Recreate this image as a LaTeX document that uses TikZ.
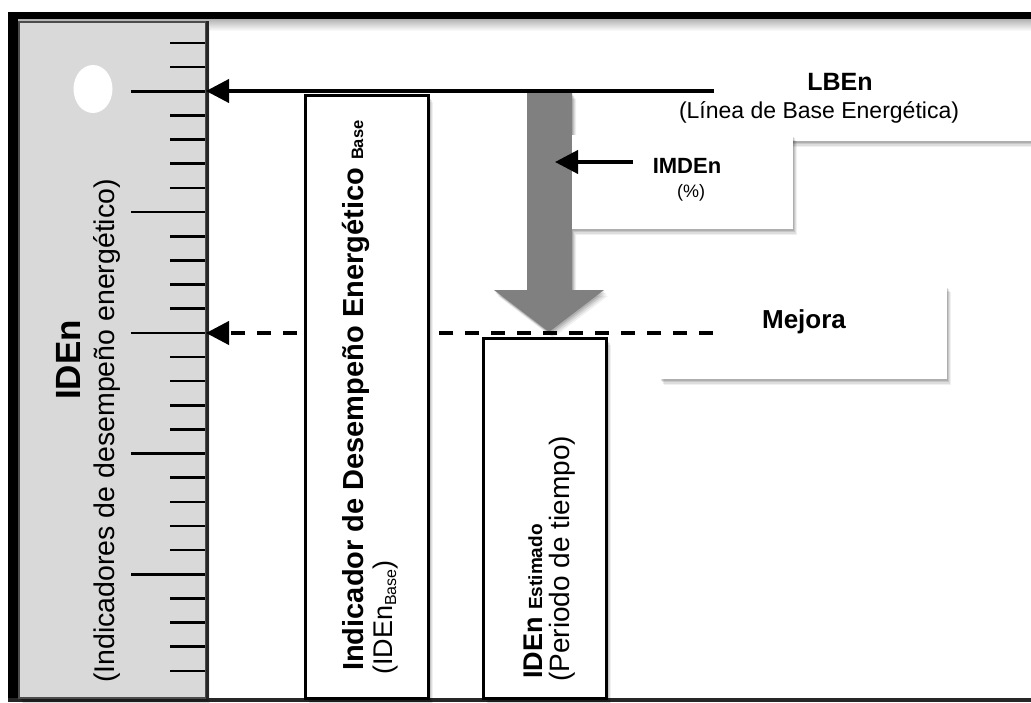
\documentclass[tikz,border=0pt]{standalone}
\usepackage{fontspec}
\setmainfont{Liberation Sans}
\usetikzlibrary{arrows.meta,shadows,shapes.geometric}
\newcommand\fsz[1]{\fontsize{#1}{#1}\selectfont}
\begin{document}
\begin{tikzpicture}[x=1pt,y=-1pt,
  softshadow/.style={
    drop shadow={shadow xshift=1pt,shadow yshift=-1.5pt,opacity=.12,fill=black},
    drop shadow={shadow xshift=2pt,shadow yshift=-3pt,opacity=.10,fill=black},
    drop shadow={shadow xshift=3pt,shadow yshift=-4.5pt,opacity=.08,fill=black},
    drop shadow={shadow xshift=4pt,shadow yshift=-6pt,opacity=.06,fill=black}},
  barbox/.style={draw=black,line width=3pt,fill=white,inner sep=0,anchor=north west,softshadow},
  labelbox/.style={fill=white,inner sep=0,anchor=north west,softshadow},
  tickline/.style={line width=2.6pt,black},
  rtext/.style={rotate=90,anchor=base west,inner sep=0},
  ctext/.style={anchor=base,inner sep=0},
  conn/.style={line width=4pt,black,-{Triangle[length=23pt,width=23pt]}},
  dashconn/.style={conn,dash pattern=on 14pt off 12pt}
]
\useasboundingbox (0,0) rectangle (1031,702);
\clip (0,0) rectangle (1031,702);
\fill[white] (0,0) rectangle (1031,702);
% top shadow under frame
\shade[top color=black!30,bottom color=white] (18,19) rectangle (1031,31);
% frame
\fill[black] (8,12) rectangle (1031,19);
\fill[black] (8,12) rectangle (18,702);
\fill[black!85] (8,698) rectangle (1031,702);

% ruler
\node[fill=black!15,draw=black!70,line width=2pt,inner sep=0,anchor=north west,
      minimum width=187pt,minimum height=676pt,softshadow] (ruler) at (18,21) {};
\draw[line width=3pt,black!85] (ruler.north east) -- (ruler.south east);
\node[ellipse,fill=white,inner sep=0,minimum width=39pt,minimum height=48pt] (hole) at (93,89) {};
\foreach \k in {0,...,26}{
  \pgfmathsetmacro\ty{43+24.15*\k}
  \pgfmathtruncatemacro\m{mod(\k,5)}
  \ifnum\m=2
    \draw[tickline] (131,\ty) -- (205,\ty);
  \else
    \draw[tickline] (170,\ty) -- (205,\ty);
  \fi
}
\coordinate (tickLB) at (206,91);
\coordinate (tickMJ) at (206,333);
\node[rtext] (rulerT) at (80,400) {\fsz{35}\bfseries IDEn};
\node[rtext] (rulerS) at (114,683) {\fsz{28.5}(Indicadores de desempeño energético)};

% Mejora dashed connector (runs behind the base bar)
\coordinate (mjstart) at (713,333);
\draw[dashconn] (mjstart) -- (tickMJ);

% bars
\node[barbox,minimum width=123pt,minimum height=603pt] (base) at (304,94) {};
\node[barbox,minimum width=123pt,minimum height=360pt] (est) at (482,337) {};
\node[rtext] (baseT) at (363,671) {\fsz{29}\bfseries Indicador de Desempeño Energético {\fsz{16.5}Base}};
\node[rtext] (baseS) at (392,675) {\fsz{27}(IDEn\raisebox{-4pt}{\fsz{16}Base})};
\node[rtext] (estT) at (542,679) {\fsz{27}\bfseries IDEn {\fsz{19}Estimado}};
\node[rtext] (estS) at (569,682) {\fsz{28}(Periodo de tiempo)};

% big gray arrow
\fill[black!50,softshadow] (527,93) -- (572,93) -- (572,290) -- (604,290) -- (549,332)
  -- (494,290) -- (527,290) -- cycle;
\coordinate (arrowtip) at (549,332);

% label boxes
\node[labelbox,minimum width=400pt,minimum height=94pt] (lbbox) at (647,47) {};
\node[labelbox,minimum width=221pt,minimum height=94pt] (imbox) at (572,135) {};
\node[labelbox,minimum width=287pt,minimum height=93pt] (mjbox) at (660,286) {};
\node[ctext] (lbT) at (840,90) {\fsz{25}\bfseries LBEn};
\node[ctext] (lbS) at (819,118) {\fsz{23}(Línea de Base Energética)};
\node[ctext] (imT) at (687,173) {\fsz{22}\bfseries IMDEn};
\node[ctext] (imS) at (691,197) {\fsz{18}(\%)};
\node[ctext] (mjT) at (804,328) {\fsz{26}\bfseries Mejora};

% connectors
\coordinate (lbstart) at (714,91);
\coordinate (imstart) at (633,162);
\coordinate (imend) at (555,162);
\draw[conn] (lbstart) -- (tickLB);
\draw[conn] (imstart) -- (imend);
% dashes over the estimated bar's top edge, the arrow tip and the Mejora box
\begin{scope}
  \clip (440,320) rectangle (722,345);
  \draw[dashconn,-] (mjstart) -- (tickMJ);
\end{scope}
\end{tikzpicture}
\end{document}
